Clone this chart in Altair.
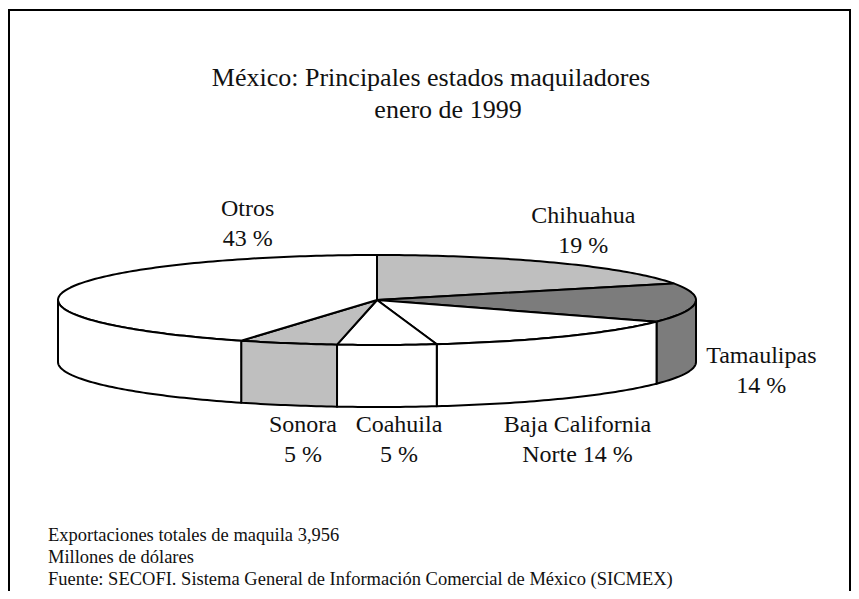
import numpy as np
import pandas as pd
import altair as alt

# ---------------- data ----------------
estados = ["Chihuahua", "Tamaulipas", "Baja California Norte", "Coahuila", "Sonora", "Otros"]
porcentajes = [19, 14, 14, 5, 5, 43]
etiqueta_linea1 = ["Chihuahua", "Tamaulipas", "Baja California", "Coahuila", "Sonora", "Otros"]
etiqueta_linea2 = ["19 %", "14 %", "Norte 14 %", "5 %", "5 %", "43 %"]
titulo = ["México: Principales estados maquiladores", "enero de 1999"]
notas = [
    "Exportaciones totales de maquila 3,956",
    "Millones de dólares",
    "Fuente: SECOFI. Sistema General de Información Comercial de México (SICMEX)",
]

# ---------------- styles / layout ----------------
colores = ["#bfbfbf", "#7c7c7c", "#ffffff", "#ffffff", "#bfbfbf", "#ffffff"]
FONT = "Liberation Serif"
TEXT_COLOR = "#111111"
CX, CY, RX, RY, DEPTH = 377.0, 300.0, 319.0, 45.0, 62.0
# label offsets (pixels) from the rim point at each slice's mid-angle
label_dx = [27, 66, 13, 12, 15, 182]
label_dy = [-40, 60, 96, 87, 89, -74]
LINE_GAP = 30


def rim(t_deg, drop=0.0):
    t = np.radians(t_deg)
    return CX + RX * np.sin(t), CY - RY * np.cos(t) + drop


rows = []
lab_rows = []
start = 0.0
for k, (name, pct) in enumerate(zip(estados, porcentajes)):
    end = start + pct * 3.6
    ts = np.linspace(start, end, int(pct * 3.6) + 2)
    pts = [(CX, CY)] + [rim(t) for t in ts] + [(CX, CY)]
    for i, (x, y) in enumerate(pts):
        rows.append({"poly": f"top-{k}", "estado": name, "i": i, "x": x, "y": y})
    a, b = max(start, 90.0), min(end, 270.0)
    if a < b:
        ts2 = np.linspace(a, b, int(b - a) + 2)
        pts2 = [rim(t) for t in ts2] + [rim(t, DEPTH) for t in ts2[::-1]] + [rim(a)]
        for i, (x, y) in enumerate(pts2):
            rows.append({"poly": f"side-{k}", "estado": name, "i": i, "x": x, "y": y})
    mx, my = rim((start + end) / 2)
    lab_rows.append({"x": mx + label_dx[k], "y": my + label_dy[k], "t": etiqueta_linea1[k]})
    lab_rows.append({"x": mx + label_dx[k], "y": my + label_dy[k] + LINE_GAP, "t": etiqueta_linea2[k]})
    start = end

df = pd.DataFrame(rows)
df_lab = pd.DataFrame(lab_rows)

xs = alt.Scale(domain=[8, 851], nice=False, zero=False)
ys = alt.Scale(domain=[8, 591], nice=False, zero=False, reverse=True)

pie = alt.Chart(df).mark_line(
    stroke="black", strokeWidth=2, strokeJoin="round", filled=False
).encode(
    x=alt.X("x:Q", scale=xs, axis=None),
    y=alt.Y("y:Q", scale=ys, axis=None),
    detail="poly:N",
    order="i:Q",
    fill=alt.Fill("estado:N", scale=alt.Scale(domain=estados, range=colores), legend=None),
)

labels = alt.Chart(df_lab).mark_text(
    font=FONT, fontSize=24, color=TEXT_COLOR, align="center", baseline="alphabetic"
).encode(
    x=alt.X("x:Q", scale=xs, axis=None),
    y=alt.Y("y:Q", scale=ys, axis=None),
    text="t:N",
)

t1 = alt.Chart(pd.DataFrame({"t": [titulo[0]]})).mark_text(
    font=FONT, fontSize=26, color=TEXT_COLOR, align="center", baseline="alphabetic"
).encode(x=alt.value(431 - 8), y=alt.value(86 - 8), text="t:N")
t2 = alt.Chart(pd.DataFrame({"t": [titulo[1]]})).mark_text(
    font=FONT, fontSize=26, color=TEXT_COLOR, align="center", baseline="alphabetic"
).encode(x=alt.value(448 - 8), y=alt.value(118 - 8), text="t:N")

notes_layers = []
for j, n in enumerate(notas):
    notes_layers.append(
        alt.Chart(pd.DataFrame({"t": [n]})).mark_text(
            font=FONT, fontSize=18.5, color=TEXT_COLOR, align="left", baseline="alphabetic"
        ).encode(x=alt.value(48 - 8), y=alt.value(541 - 8 + 22 * j), text="t:N")
    )

frame = alt.Chart(pd.DataFrame({"a": [0]})).mark_rect(
    fill="transparent", stroke="black", strokeWidth=2
).encode(x=alt.value(1), x2=alt.value(842), y=alt.value(2), y2=alt.value(700))

chart = alt.layer(frame, pie, labels, t1, t2, *notes_layers).properties(
    width=843, height=583, autosize=alt.AutoSizeParams(type="none"), padding=0
).configure_view(stroke=None)

chart.save("out.html", embed_options={"renderer": "svg", "actions": False})
